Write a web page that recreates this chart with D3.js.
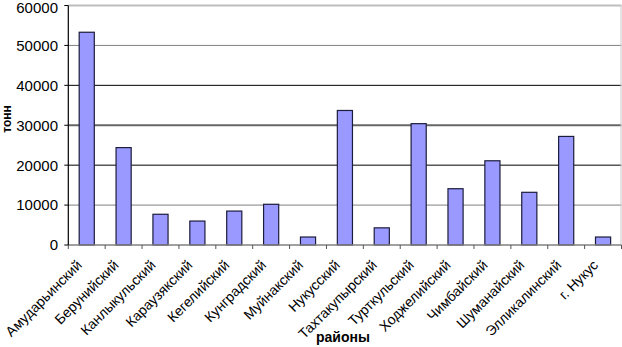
<!DOCTYPE html>
<html>
<head>
<meta charset="utf-8">
<script src="https://cdn.jsdelivr.net/npm/d3@7"></script>
<style>
  body { margin: 0; background: #fff; }
  svg { display: block; }
</style>
</head>
<body>
<div id="chart"></div>
<script>
// districts (x categories)
const districts = ["Амударьинский", "Берунийский", "Канлыкульский", "Караузякский", "Кегелийский",
  "Кунградский", "Муйнакский", "Нукусский", "Тахтакупырский", "Турткульский", "Ходжелийский",
  "Чимбайский", "Шуманайский", "Элликалинский", "г. Нукус"];
// tonnes
const tonnes = [53300, 24400, 7700, 6000, 8500, 10200, 2000, 33700, 4300, 30400, 14100, 21100, 13200, 27200, 2000];
const yTicks = [0, 10000, 20000, 30000, 40000, 50000, 60000];

const W = 622, H = 347;
const m = {left: 68.3, right: 0.5, top: 5.5, bottom: 102};

const svg = d3.select('#chart')
    .append('svg')
    .attr("width", W)
    .attr("height", H);

const x = d3.scaleBand()
    .domain(districts)
    .range([m.left, W - m.right])
    .paddingInner(0.59)
    .paddingOuter(0.295);

const y = d3.scaleLinear()
    .domain([0, 60000])
    .range([H - m.bottom, m.top]);

// gridlines - the scanned picture has them in different greys
const gridCol = {10000: "#808080", 20000: "#000", 30000: "#666", 40000: "#000", 50000: "#808080", 60000: "#bdbdbd"};
const gridW = {10000: 1, 20000: 1, 30000: 2, 40000: 1, 50000: 1, 60000: 2};

svg.append("g")
    .selectAll("line")
    .data(yTicks.filter(d => d > 0))
    .join("line")
    .attr("x1", m.left)
    .attr("x2", W - m.right)
    .attr("y1", d => y(d))
    .attr("y2", d => y(d))
    .style("stroke", d => gridCol[d])
    .style("stroke-width", d => gridW[d]);

// right border
svg.append("line")
    .attr("x1", W - m.right - 0.5).attr("x2", W - m.right - 0.5)
    .attr("y1", m.top).attr("y2", y(0))
    .style("stroke", "#c8c8c8");

// bars
svg.append("g")
    .selectAll("rect")
    .data(tonnes)
    .join("rect")
    .attr("x", (d, i) => x(districts[i]))
    .attr("width", x.bandwidth())
    .attr("y", d => y(d))
    .attr("height", d => y(0) - y(d))
    .style("fill", "#9999ff")
    .style("stroke", "#1c1c3c")
    .style("stroke-width", 1.2);

// x axis
const step = x.step();
const xAxis = svg.append("g");
xAxis.append("line")
    .attr("x1", m.left).attr("x2", W - m.right)
    .attr("y1", y(0)).attr("y2", y(0))
    .style("stroke", "#808080")
    .style("stroke-width", 1.5);
xAxis.selectAll(".xt")
    .data(d3.range(districts.length + 1))
    .join("line")
    .attr("x1", i => m.left + i * step)
    .attr("x2", i => m.left + i * step)
    .attr("y1", y(0))
    .attr("y2", y(0) + 4)
    .style("stroke", "#555");

xAxis.selectAll("text")
    .data(districts)
    .join("text")
    .text(d => d)
    .attr("text-anchor", "end")
    .attr("transform", d => `translate(${x(d) + x.bandwidth() / 2 - 4}, ${y(0) + 21}) rotate(-45)`)
    .style("font-size", "14px")
    .style("font-family", "Liberation Sans, Arial, sans-serif");

// y axis
const yAxis = svg.append("g");
yAxis.append("line")
    .attr("x1", m.left).attr("x2", m.left)
    .attr("y1", m.top).attr("y2", y(0))
    .style("stroke", "#000")
    .style("stroke-width", 1.2);
yAxis.selectAll("line.yt")
    .data(yTicks)
    .join("line")
    .attr("class", "yt")
    .attr("x1", m.left - 4)
    .attr("x2", m.left)
    .attr("y1", d => y(d))
    .attr("y2", d => y(d))
    .style("stroke", "#000");
yAxis.selectAll("text")
    .data(yTicks)
    .join("text")
    .text(d => d)
    .attr("x", 58)
    .attr("y", d => y(d) + (d === 60000 ? 2.5 : 0))
    .attr("dy", "0.36em")
    .attr("text-anchor", "end")
    .style("font-size", "15px")
    .style("font-family", "Liberation Sans, Arial, sans-serif");

// axis titles
svg.append("text")
    .text("тонн")
    .attr("transform", "translate(10.5, 119) rotate(-90)")
    .attr("text-anchor", "middle")
    .style("font-size", "12px")
    .style("font-weight", "bold")
    .style("font-family", "Liberation Sans, Arial, sans-serif");

svg.append("text")
    .text("районы")
    .attr("x", 343)
    .attr("y", 342)
    .attr("text-anchor", "middle")
    .style("font-size", "14px")
    .style("font-weight", "bold")
    .style("font-family", "Liberation Sans, Arial, sans-serif");
</script>
</body>
</html>
